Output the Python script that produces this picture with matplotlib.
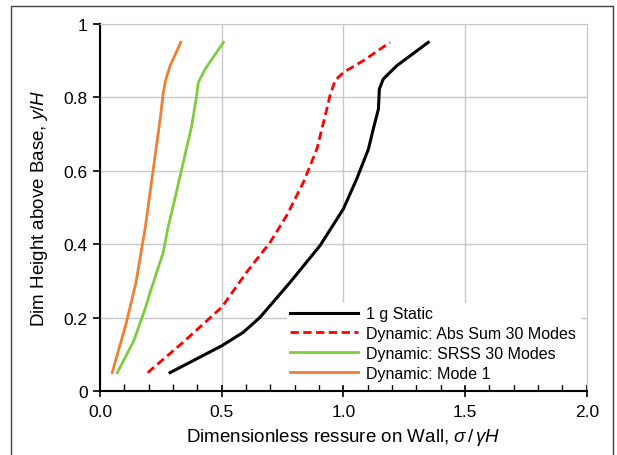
import matplotlib
matplotlib.use("Agg")
import matplotlib.pyplot as plt
from matplotlib.patches import Rectangle
from matplotlib.ticker import MultipleLocator, FuncFormatter

plt.rcParams['font.family'] = ['Liberation Sans', 'DejaVu Sans']
plt.rcParams['mathtext.fontset'] = 'custom'
plt.rcParams['mathtext.it'] = 'Liberation Sans:italic'
plt.rcParams['mathtext.rm'] = 'Liberation Sans'

# 1 g static
static_x = [0.288, 0.500, 0.589, 0.658, 0.781, 0.904, 1.000, 1.055, 1.103, 1.123, 1.144, 1.148, 1.164, 1.219, 1.349]
static_y = [0.050, 0.123, 0.160, 0.201, 0.296, 0.396, 0.496, 0.578, 0.659, 0.714, 0.768, 0.823, 0.850, 0.886, 0.950]

# abs sum 30 modes
abs_x = [0.196, 0.342, 0.500, 0.603, 0.699, 0.767, 0.836, 0.891, 0.932, 0.945, 0.966, 1.000, 1.082, 1.192]
abs_y = [0.050, 0.133, 0.228, 0.324, 0.405, 0.478, 0.569, 0.659, 0.768, 0.805, 0.846, 0.868, 0.900, 0.950]

# srss 30 modes
srss_x = [0.071, 0.139, 0.188, 0.206, 0.260, 0.278, 0.301, 0.336, 0.377, 0.397, 0.404, 0.432, 0.507]
srss_y = [0.050, 0.137, 0.229, 0.269, 0.378, 0.441, 0.505, 0.605, 0.723, 0.805, 0.841, 0.877, 0.950]

# mode 1
mode1_x = [0.050, 0.107, 0.147, 0.185, 0.219, 0.249, 0.260, 0.271, 0.288, 0.332]
mode1_y = [0.050, 0.183, 0.293, 0.441, 0.605, 0.750, 0.814, 0.850, 0.886, 0.950]

fig = plt.figure(figsize=(6.17, 4.56), dpi=100)
ax = fig.add_axes([0.1621, 0.1404, 0.7888, 0.8048])

ax.plot(static_x, static_y, color='black', lw=2.2, label='1 g Static')
ax.plot(abs_x, abs_y, color='#ff0000', lw=2.0, ls=(0, (3, 1.6)), label='Dynamic: Abs Sum 30 Modes')
ax.plot(srss_x, srss_y, color='#7fcc3f', lw=2.0, label='Dynamic: SRSS 30 Modes')
ax.plot(mode1_x, mode1_y, color='#f07f32', lw=2.0, label='Dynamic: Mode 1')

ax.set_xlim(0, 2.0)
ax.set_ylim(0, 1.0)
ax.xaxis.set_major_locator(MultipleLocator(0.5))
ax.xaxis.set_minor_locator(MultipleLocator(0.1))
ax.yaxis.set_major_locator(MultipleLocator(0.2))
ax.xaxis.set_major_formatter(FuncFormatter(lambda v, p: f"{v:.1f}"))
ax.yaxis.set_major_formatter(FuncFormatter(lambda v, p: f"{v:.0f}" if abs(v - round(v)) < 1e-6 else f"{v:.1f}"))
ax.grid(True, which='major', color='#c8c8c8', lw=1.0)
ax.set_axisbelow(True)
ax.tick_params(axis='y', which='major', labelsize=12.5, length=5, width=1.2, direction='out', pad=4)
ax.tick_params(axis='x', which='major', labelsize=12.5, length=9, width=1.2, direction='inout', pad=5)
ax.tick_params(axis='x', which='minor', length=5, width=1.0, direction='in')
for s in ['top', 'right']:
    ax.spines[s].set_color('#c8c8c8')
for s in ['left', 'bottom']:
    ax.spines[s].set_linewidth(1.5)

ax.set_xlabel(r'Dimensionless ressure on Wall, $\sigma\,/\,\gamma H$', fontsize=13.5, labelpad=5)
ax.set_ylabel(r'Dim Height above Base, $y/H$', fontsize=13.5, labelpad=10)

leg = ax.legend(loc='lower right', fontsize=11.5, frameon=True, fancybox=False,
                edgecolor='white', framealpha=1.0, handlelength=4.3, borderaxespad=0.45,
                borderpad=0.2, labelspacing=0.3, handletextpad=0.5)

fig.patches.append(Rectangle((11 / 617, -0.01), 602 / 617, 1.0 - 6.7 / 456 + 0.01, transform=fig.transFigure,
                             fill=False, edgecolor='#404040', lw=1.0))

fig.savefig('out.png', dpi=100)
